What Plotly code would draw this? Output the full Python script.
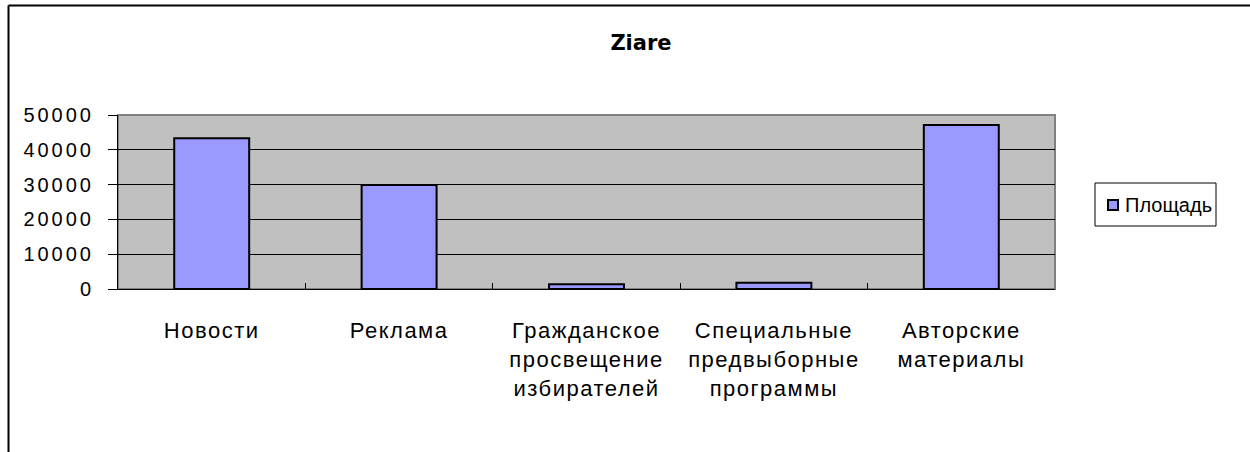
import plotly.graph_objects as go

categories = [
    "Новости",
    "Реклама",
    "Гражданское<br>просвещение<br>избирателей",
    "Специальные<br>предвыборные<br>программы",
    "Авторские<br>материалы",
]
values = [43300, 29900, 1400, 1800, 47100]
series_name = "Площадь"
y_ticks = [0, 10000, 20000, 30000, 40000, 50000]
title_text = "<b>Ziare</b>"

W, H = 1250, 452
L, R, T, B = 118, 1055, 115, 289
pw, ph = R - L, B - T


def px_x(x):
    return (x - L) / pw


def px_y(y):
    return (B - y) / ph


fig = go.Figure()
fig.add_trace(go.Bar(
    x=categories,
    y=values,
    name=series_name,
    marker=dict(color="#9999FF", line=dict(color="black", width=2)),
    showlegend=False,
))

fig.update_layout(
    width=W,
    height=H,
    margin=dict(l=L, r=W - R, t=T, b=H - B, autoexpand=False),
    paper_bgcolor="white",
    plot_bgcolor="#C0C0C0",
    bargap=0.6,
    title=dict(
        text=title_text,
        x=641 / W, xref="container", xanchor="center",
        y=1 - 43 / H, yref="container", yanchor="middle",
        font=dict(family="DejaVu Sans", size=21, color="black"),
    ),
    font=dict(family="Liberation Sans", color="black"),
    showlegend=False,
    xaxis=dict(
        type="category",
        showgrid=False,
        showline=True,
        linecolor="black",
        linewidth=1,
        ticks="inside",
        tickson="boundaries",
        ticklen=6,
        tickcolor="black",
        tickfont=dict(family="Liberation Sans", size=22, color="black"),
        ticklabelstandoff=22,
        zeroline=False,
    ),
    yaxis=dict(
        range=[0, 50000],
        tickvals=y_ticks,
        ticktext=[str(v) for v in y_ticks],
        showgrid=True,
        gridcolor="black",
        gridwidth=1,
        showline=True,
        linecolor="black",
        linewidth=1,
        ticks="outside",
        ticklen=9,
        tickcolor="black",
        tickfont=dict(family="Liberation Sans", size=20, color="black"),
        ticklabelstandoff=10,
        zeroline=False,
    ),
)

# gray border around the plot area (top/right)
fig.add_shape(type="rect", xref="paper", yref="paper", x0=0, x1=1, y0=0, y1=1,
              line=dict(color="#808080", width=2), fillcolor="rgba(0,0,0,0)", layer="below")
# outer chart frame (left and top edges)
fig.add_shape(type="line", xref="paper", yref="paper",
              x0=px_x(8.5), x1=px_x(8.5), y0=px_y(5.5), y1=px_y(460),
              line=dict(color="black", width=2))
fig.add_shape(type="line", xref="paper", yref="paper",
              x0=px_x(8.5), x1=px_x(1260), y0=px_y(5.5), y1=px_y(5.5),
              line=dict(color="black", width=2))

# legend box (drawn manually to match the original layout)
fig.add_shape(type="rect", xref="paper", yref="paper",
              x0=px_x(1095), x1=px_x(1216), y0=px_y(226), y1=px_y(183),
              line=dict(color="black", width=1), fillcolor="white")
fig.add_shape(type="rect", xref="paper", yref="paper",
              x0=px_x(1108), x1=px_x(1118), y0=px_y(210), y1=px_y(200),
              line=dict(color="black", width=2), fillcolor="#9999FF")
fig.add_annotation(text=series_name, xref="paper", yref="paper",
                   x=px_x(1123), y=px_y(205), xanchor="left", yanchor="middle",
                   showarrow=False,
                   font=dict(family="Liberation Sans", size=20, color="black"))

post = """
document.body.style.margin='0';
(function(){
  var gd = document.getElementById('{plot_id}');
  function spread(){
    gd.querySelectorAll('.xtick text').forEach(function(t){t.style.letterSpacing='1.5px';});
    gd.querySelectorAll('.ytick text').forEach(function(t){t.style.letterSpacing='3px';});
  }
  spread();
  if (gd.on) { gd.on('plotly_afterplot', spread); }
})();
"""

fig.write_html("out.html", post_script=post,
               config={"displayModeBar": False, "staticPlot": True})
